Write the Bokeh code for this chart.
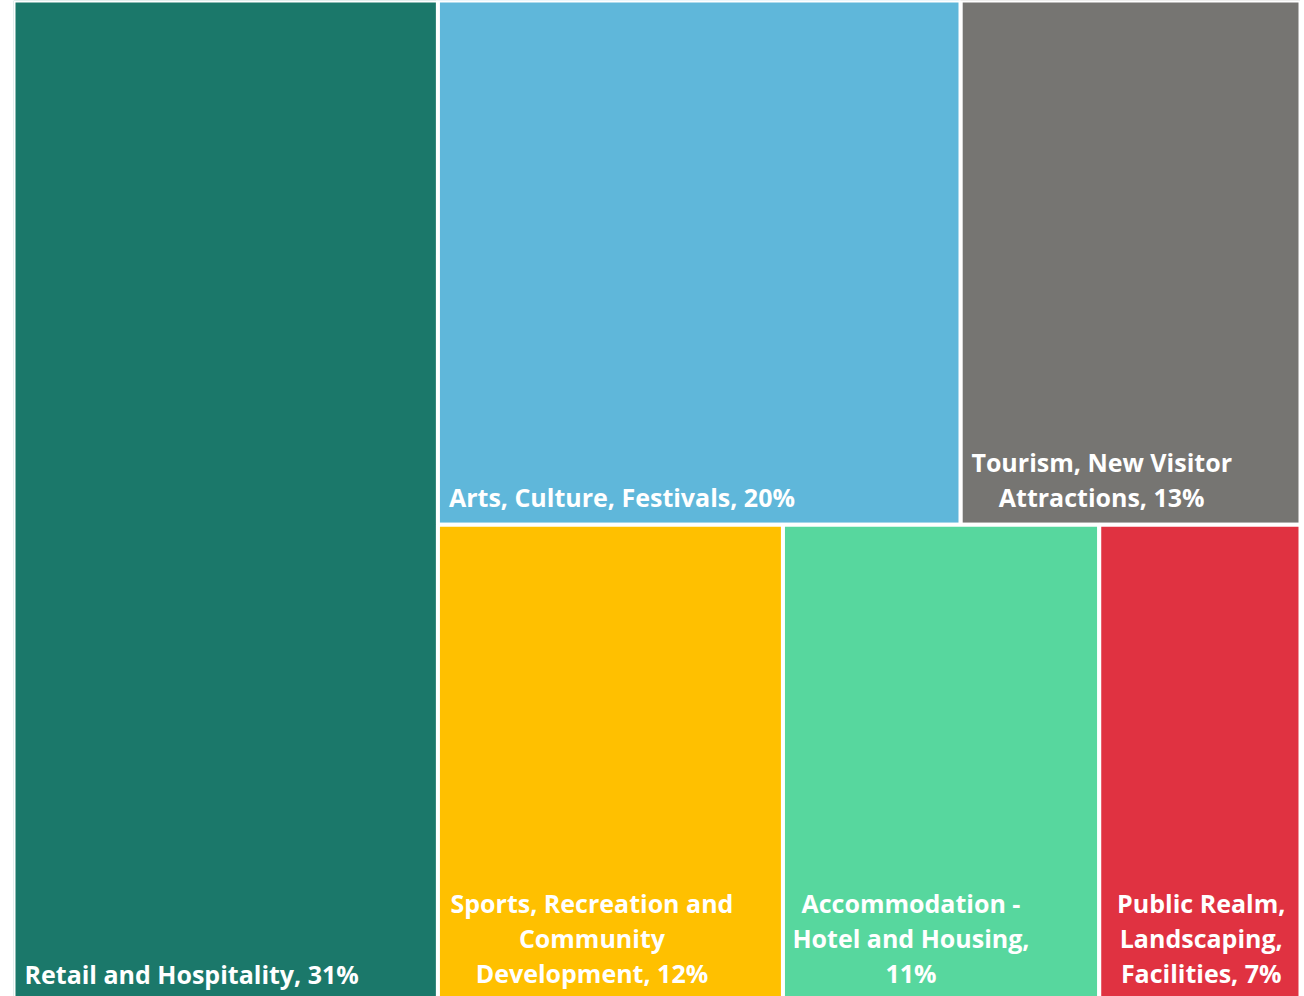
from bokeh.plotting import figure
from bokeh.models import Range1d, ColumnDataSource
from bokeh.embed import file_html
from bokeh.resources import INLINE
from bokeh.core.properties import value

# ---- data ----
categories = [
    "Retail and Hospitality",
    "Arts, Culture, Festivals",
    "Tourism, New Visitor Attractions",
    "Sports, Recreation and Community Development",
    "Accommodation - Hotel and Housing",
    "Public Realm, Landscaping, Facilities",
]
shares = [31, 20, 13, 12, 11, 7]
labels = [
    "Retail and Hospitality, 31%",
    "Arts, Culture, Festivals, 20%",
    "Tourism, New Visitor\nAttractions, 13%",
    "Sports, Recreation and\nCommunity\nDevelopment, 12%",
    "Accommodation -\nHotel and Housing,\n11%",
    "Public Realm,\nLandscaping,\nFacilities, 7%",
]
colors = ["#1B786A", "#5FB7DA", "#767572", "#FFC000", "#57D79E", "#E03241"]

# ---- treemap layout (slice and dice) ----
total = float(sum(shares))
left, right, bottom, top = [], [], [], []
left.append(0.0); right.append(shares[0]); bottom.append(0.0); top.append(1.0)
rest_w = total - shares[0]
top_row = [1, 2]
bot_row = [3, 4, 5]
rest_sum = sum(shares[i] for i in top_row + bot_row)
h_bot = sum(shares[i] for i in bot_row) / rest_sum
x = shares[0]
row_sum = sum(shares[i] for i in top_row)
for i in top_row:
    w = rest_w * shares[i] / row_sum
    left.append(x); right.append(x + w); bottom.append(h_bot); top.append(1.0)
    x += w
x = shares[0]
row_sum = sum(shares[i] for i in bot_row)
for i in bot_row:
    w = rest_w * shares[i] / row_sum
    left.append(x); right.append(x + w); bottom.append(0.0); top.append(h_bot)
    x += w

FS = 25
PAD = 11
single_x, single_y, single_t = [], [], []
multi_x, multi_y, multi_t, multi_off = [], [], [], []
for i, lab in enumerate(labels):
    lines = lab.split("\n")
    if len(lines) == 1:
        single_x.append(left[i]); single_y.append(bottom[i]); single_t.append(lab)
    else:
        bw = max(len(l) for l in lines) * 0.52 * FS
        multi_x.append(left[i]); multi_y.append(bottom[i]); multi_t.append(lab)
        multi_off.append(PAD + bw / 2)

src = ColumnDataSource(dict(left=left, right=right, bottom=bottom, top=top, color=colors, cat=categories))

p = figure(width=1300, height=996, x_range=Range1d(0, total), y_range=Range1d(0.005, 1.0),
           output_backend="svg", toolbar_location=None,
           x_axis_location=None, y_axis_location=None,
           min_border_left=13, min_border_right=0, min_border_top=0, min_border_bottom=0)
p.grid.visible = False
p.outline_line_color = None
p.background_fill_color = "white"
p.border_fill_color = "white"

p.quad(left="left", right="right", bottom="bottom", top="top", fill_color="color",
       line_color="white", line_width=4, source=src)

p.text(x=single_x, y=single_y, text=single_t, x_offset=PAD, y_offset=-11,
       text_color="white", text_font=value("Open Sans"), text_font_style="bold",
       text_font_size=f"{FS}px", text_align="left", text_baseline="bottom")
p.text(x=multi_x, y=multi_y, text=multi_t, x_offset=multi_off, y_offset=-11,
       text_color="white", text_font=value("Open Sans"), text_font_style="bold",
       text_font_size=f"{FS}px", text_align="center", text_baseline="bottom",
       text_line_height=1.03)

open("out.html", "w").write(file_html(p, INLINE))
